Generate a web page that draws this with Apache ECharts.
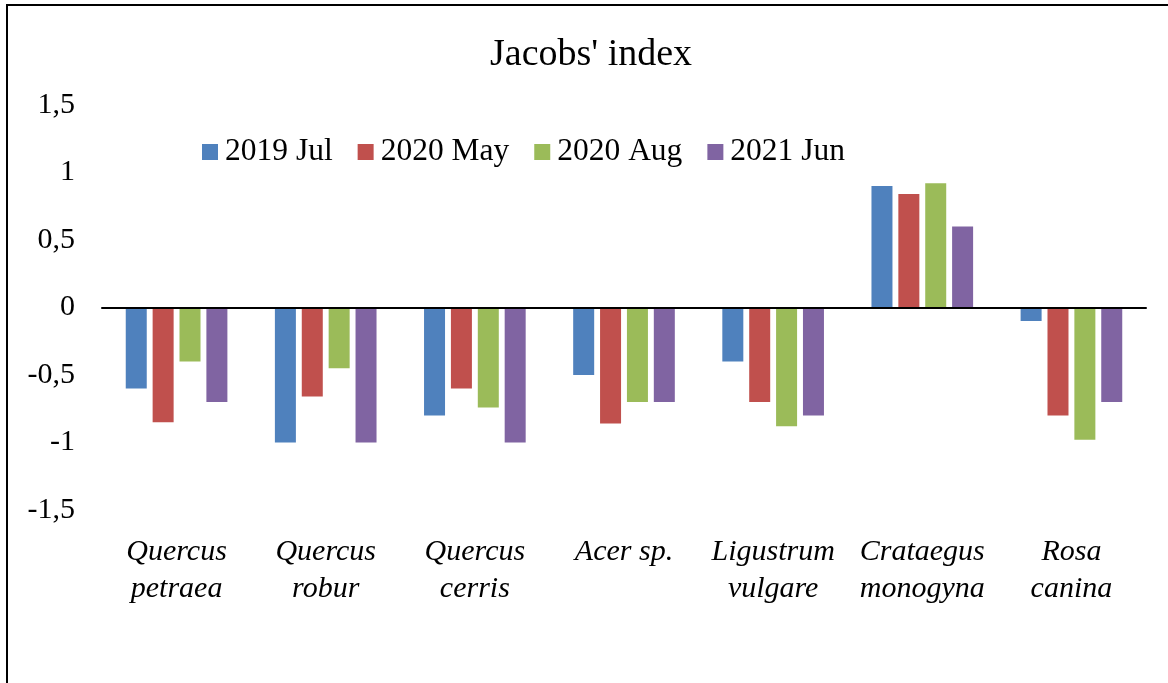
<!DOCTYPE html>
<html>
<head>
<meta charset="utf-8">
<title>Jacobs' index</title>
<script src="https://cdn.jsdelivr.net/npm/echarts@6/dist/echarts.min.js"></script>
<style>
  html, body { margin: 0; padding: 0; background: #fff; }
  #chart { width: 1168px; height: 683px; }
</style>
</head>
<body>
<div id="chart"></div>
<script>
// species along the x axis
var categories = ['Quercus\npetraea', 'Quercus\nrobur', 'Quercus\ncerris', 'Acer sp.',
                  'Ligustrum\nvulgare', 'Crataegus\nmonogyna', 'Rosa\ncanina'];

// Jacobs' index per sampling period
var jul2019 = [-0.60, -1.00, -0.80, -0.50, -0.40, 0.90, -0.10];
var may2020 = [-0.85, -0.66, -0.60, -0.86, -0.70, 0.84, -0.80];
var aug2020 = [-0.40, -0.45, -0.74, -0.70, -0.88, 0.92, -0.98];
var jun2021 = [-0.70, -1.00, -1.00, -0.70, -0.80, 0.60, -0.70];

var seriesNames = ['2019 Jul', '2020 May', '2020 Aug', '2021 Jun'];
var seriesData = [jul2019, may2020, aug2020, jun2021];
var colors = ['#4F81BD', '#C0504D', '#9BBB59', '#8064A2'];

var font = '"Liberation Serif", "Times New Roman", serif';

var myChart = echarts.init(document.getElementById('chart'));

var series = seriesNames.map(function (name, i) {
    return {
        name: name,
        type: 'bar',
        data: seriesData[i],
        barWidth: 21,
        barGap: '28%',
        itemStyle: { color: colors[i] }
    };
});

myChart.setOption({
    animation: false,
    color: colors,
    textStyle: { fontFamily: font, color: '#000' },
    // frame of the chart area (runs off right and bottom edges)
    graphic: [{
        type: 'rect',
        shape: { x: 7, y: 5, width: 1300, height: 800 },
        style: { fill: 'none', stroke: '#000', lineWidth: 2 },
        silent: true
    }],
    title: {
        text: "Jacobs' index",
        left: 485,
        top: 30,
        textStyle: { fontFamily: font, fontSize: 38, fontWeight: 'normal', color: '#000', lineHeight: 40 }
    },
    legend: {
        data: seriesNames,
        left: 197,
        top: 131,
        itemWidth: 16,
        itemHeight: 16,
        itemGap: 25,
        icon: 'rect',
        textStyle: { fontFamily: font, fontSize: 31.5, color: '#000', padding: [0, 0, 0, 2] }
    },
    grid: {
        left: 102,
        right: 22,
        top: 105,
        bottom: 173
    },
    xAxis: [
        {
            // labels at the bottom
            type: 'category',
            data: categories,
            position: 'bottom',
            axisLine: { show: false, onZero: false },
            axisTick: { show: false },
            axisLabel: {
                interval: 0,
                margin: 24,
                fontFamily: font,
                fontSize: 30,
                fontStyle: 'italic',
                lineHeight: 37,
                color: '#000'
            }
        },
        {
            // zero line only
            type: 'category',
            data: categories,
            position: 'bottom',
            z: 5,
            axisLine: { show: true, onZero: true, lineStyle: { color: '#000', width: 2 } },
            axisTick: { show: false },
            axisLabel: { show: false }
        }
    ],
    yAxis: {
        type: 'value',
        min: -1.5,
        max: 1.5,
        interval: 0.5,
        axisLine: { show: false },
        axisTick: { show: false },
        splitLine: { show: false },
        axisLabel: {
            margin: 27,
            fontFamily: font,
            fontSize: 30,
            color: '#000',
            formatter: function (v) {
                return String(v).replace('.', ',');
            }
        }
    },
    series: series
});
</script>
</body>
</html>
